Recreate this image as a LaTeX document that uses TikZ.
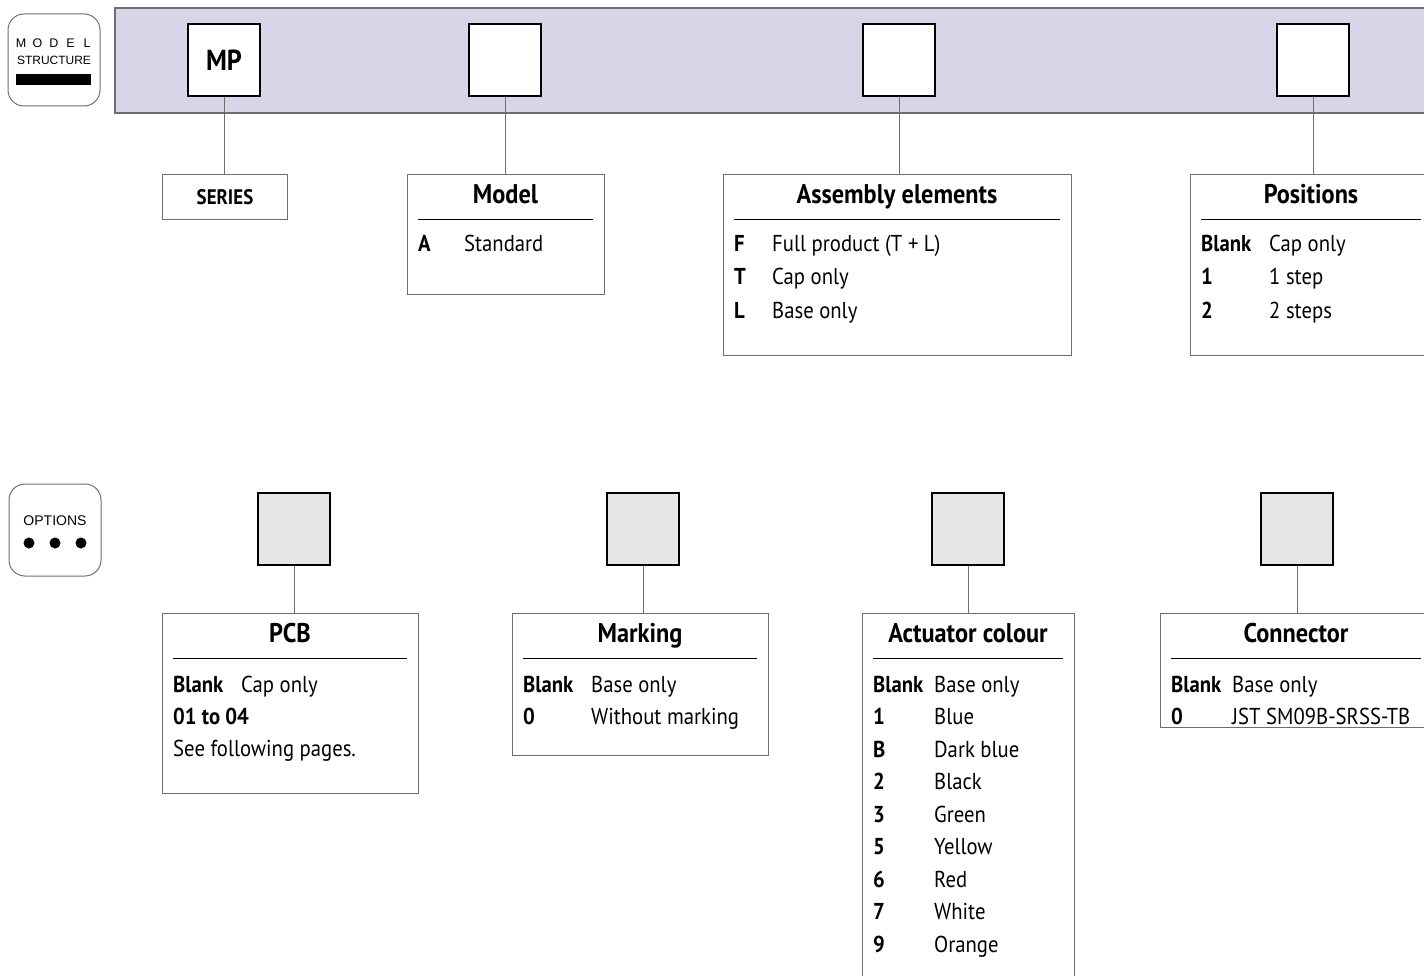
\documentclass[tikz,border=0pt]{standalone}
\usepackage{fontspec}
\setmainfont[FakeStretch=0.9]{PT Sans}
\newfontfamily\iconfont{Liberation Sans}
\usetikzlibrary{positioning}
\definecolor{bandlilac}{HTML}{D9D5E8}
\definecolor{optgray}{HTML}{E6E6E6}
\definecolor{framegray}{HTML}{6E6E6E}
\newcommand{\ttlfont}{\fontsize{27}{32}\selectfont\bfseries}
\newcommand{\txtfont}{\fontsize{23}{27}\selectfont}

\begin{document}
\begin{tikzpicture}[x=1pt,y=-1pt]
    %styles
    \tikzstyle{code}=[rectangle,draw,line width=2.5pt,minimum size=72pt,inner sep=0pt,fill=white,font=\fontsize{29}{32}\selectfont\bfseries]
    \tikzstyle{optcode}=[code,fill=optgray]
    \tikzstyle{desc}=[rectangle,draw=framegray,line width=1pt,anchor=north west,inner sep=0pt]
    \tikzstyle{head}=[anchor=base,inner sep=0pt,font=\ttlfont]
    \tikzstyle{key}=[anchor=base west,inner sep=0pt,font=\txtfont\bfseries]
    \tikzstyle{val}=[anchor=base west,inner sep=0pt,font=\txtfont]
    \tikzstyle{link}=[draw=framegray,line width=1pt]
    \tikzstyle{icon}=[rectangle,rounded corners=16pt,draw=framegray,line width=1pt,minimum size=92pt,inner sep=0pt]
    \tikzstyle{icontext}=[inner sep=0pt,font=\iconfont\fontsize{12}{14}\selectfont]

    \useasboundingbox (0,0) rectangle (1424,976);

    %band
    \fill[bandlilac] (115,8) rectangle (1440,113);
    \draw[framegray,line width=1.5pt] (1440,8) -- (115,8) -- (115,113) -- (1440,113);

    %icons
    \node[icon] (modicon) at (54,60) {};
    \foreach \l [count=\i from 0] in {M,O,D,E,L}
        \node[icontext,font=\iconfont\fontsize{12.5}{14}\selectfont] (lt\i) at (21+16.5*\i,43) {\l};
    \node[icontext] (struct) at (54,60) {STRUCTURE};
    \fill (16,74) rectangle (91,85);

    \node[icon] (opticon) at (55,530) {};
    \node[icontext,font=\iconfont\fontsize{14}{16}\selectfont] (opttext) at (55,521) {OPTIONS};
    \foreach \x in {29,55,81}
        \fill (\x,543) circle (5.5pt);

    %code boxes
    \node[code] (mp) at (224,60) {MP};
    \node[code] (c2) at (505,60) {};
    \node[code] (c3) at (899,60) {};
    \node[code] (c4) at (1313,60) {};

    \node[optcode] (o1) at (294,529) {};
    \node[optcode] (o2) at (643,529) {};
    \node[optcode] (o3) at (968,529) {};
    \node[optcode] (o4) at (1297,529) {};

    %description boxes
    \node[desc,minimum width=125pt,minimum height=45pt] (series) at (162,174) {};
    \node[anchor=center,inner sep=0pt,font=\fontsize{21}{24}\selectfont\bfseries] (seriestxt) at (series.center) {SERIES};

    \node[desc,minimum width=197pt,minimum height=120pt] (model) at (407,174) {};
    \node[head] (modelh) at (505.5,204) {Model};
    \draw (418,219) -- (593,219);
    \node[key] (ka) at (418,252) {A};
    \node[val] (va) at (464,252) {Standard};

    \node[desc,minimum width=348pt,minimum height=181pt] (assy) at (723,174) {};
    \node[head] (assyh) at (897,204) {Assembly elements};
    \draw (734,219) -- (1060,219);
    \foreach \k/\v [count=\i from 0] in {F/Full product (T + L),T/Cap only,L/Base only}{
        \node[key] (ak\i) at (734,252+33*\i) {\k};
        \node[val] (av\i) at (772,252+33*\i) {\v};
    }

    \node[desc,minimum width=242pt,minimum height=181pt] (pos) at (1190,174) {};
    \node[head] (posh) at (1311,204) {Positions};
    \draw (1201,219) -- (1421,219);
    \foreach \k/\v [count=\i from 0] in {Blank/Cap only,1/1 step,2/2 steps}{
        \node[key] (pk\i) at (1201,252+33*\i) {\k};
        \node[val] (pv\i) at (1269,252+33*\i) {\v};
    }

    \node[desc,minimum width=256pt,minimum height=180pt] (pcb) at (162,613) {};
    \node[head] (pcbh) at (290,642) {PCB};
    \draw (173,658) -- (407,658);
    \node[key] (bk0) at (173,692) {Blank};
    \node[val] (bv0) at (241,692) {Cap only};
    \node[key] (bk1) at (173,724) {01 to 04};
    \node[val] (bv1) at (173,756) {See following pages.};

    \node[desc,minimum width=256pt,minimum height=142pt] (mark) at (512,613) {};
    \node[head] (markh) at (640,642) {Marking};
    \draw (523,658) -- (757,658);
    \foreach \k/\v [count=\i from 0] in {Blank/Base only,0/Without marking}{
        \node[key] (mk\i) at (523,692+32*\i) {\k};
        \node[val] (mv\i) at (591,692+32*\i) {\v};
    }

    \node[desc,minimum width=212pt,minimum height=380pt] (act) at (862,613) {};
    \node[head] (acth) at (968,642) {Actuator colour};
    \draw (873,658) -- (1063,658);
    \foreach \k/\v [count=\i from 0] in {Blank/Base only,1/Blue,B/Dark blue,2/Black,3/Green,5/Yellow,6/Red,7/White,9/Orange}{
        \node[key] (ck\i) at (873,692+32.5*\i) {\k};
        \node[val] (cv\i) at (934,692+32.5*\i) {\v};
    }

    \node[desc,minimum width=272pt,minimum height=114pt] (conn) at (1160,613) {};
    \node[head] (connh) at (1296,642) {Connector};
    \draw (1171,658) -- (1421,658);
    \foreach \k/\v [count=\i from 0] in {Blank/Base only,0/JST SM09B-SRSS-TB}{
        \node[key] (nk\i) at (1171,692+32*\i) {\k};
        \node[val] (nv\i) at (1232,692+32*\i) {\v};
    }

    %links
    \draw[link] (mp.south) -- (mp.south |- series.north);
    \draw[link] (c2.south) -- (c2.south |- model.north);
    \draw[link] (c3.south) -- (c3.south |- assy.north);
    \draw[link] (c4.south) -- (c4.south |- pos.north);
    \draw[link] (o1.south) -- (o1.south |- pcb.north);
    \draw[link] (o2.south) -- (o2.south |- mark.north);
    \draw[link] (o3.south) -- (o3.south |- act.north);
    \draw[link] (o4.south) -- (o4.south |- conn.north);
\end{tikzpicture}
\end{document}
